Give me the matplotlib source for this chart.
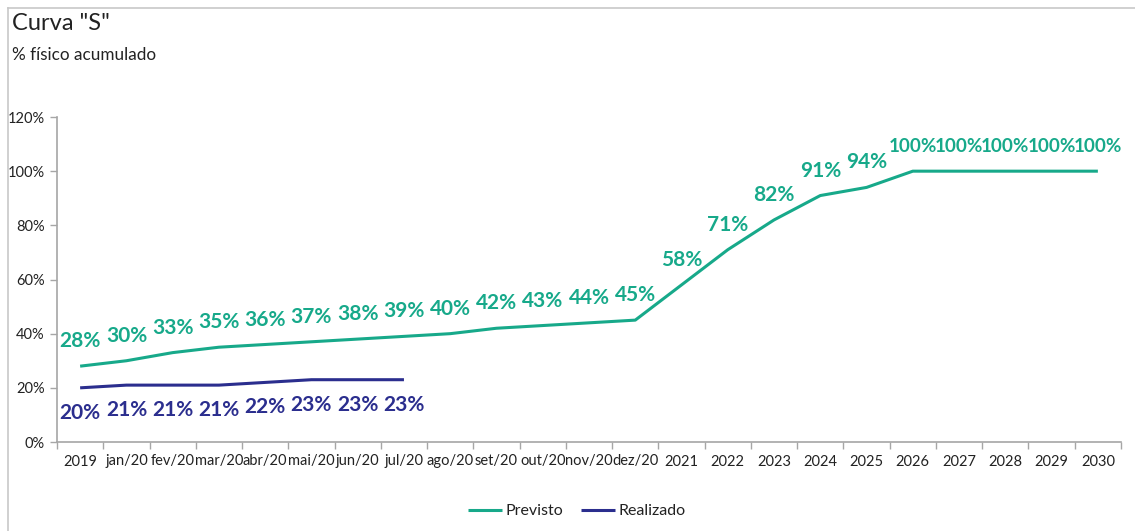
import matplotlib
matplotlib.use("Agg")
import matplotlib.pyplot as plt
from matplotlib.lines import Line2D
from matplotlib.ticker import FuncFormatter, FixedLocator

categories = ["2019", "jan/20", "fev/20", "mar/20", "abr/20", "mai/20", "jun/20", "jul/20",
              "ago/20", "set/20", "out/20", "nov/20", "dez/20", "2021", "2022", "2023",
              "2024", "2025", "2026", "2027", "2028", "2029", "2030"]
previsto = [28, 30, 33, 35, 36, 37, 38, 39, 40, 42, 43, 44, 45, 58, 71, 82, 91, 94,
            100, 100, 100, 100, 100]
realizado = [20, 21, 21, 21, 22, 23, 23, 23]

C_PREV = "#17A98A"
C_REAL = "#2B2E8E"
AXIS_C = "#A6A6A6"
TXT_C = "#222222"
FONT = ["Lato", "DejaVu Sans"]

plt.rcParams["font.family"] = FONT

fig = plt.figure(figsize=(11.35, 5.31), dpi=100)
ax = fig.add_axes([57/1135, 1-442/531, (1121-57)/1135, (442-117)/531])

x = list(range(len(categories)))
ax.plot(x, previsto, color=C_PREV, lw=2.2, label="Previsto", solid_capstyle="butt")
ax.plot(x[:len(realizado)], realizado, color=C_REAL, lw=2.2, label="Realizado",
        solid_capstyle="butt")

for xi, v in zip(x, previsto):
    fs = 13.6 if v >= 100 else 15
    ax.annotate(f"{v}%", (xi, v), xytext=(0, 25), textcoords="offset pixels",
                ha="center", va="center", color=C_PREV, fontsize=fs, fontweight="bold")
for xi, v in zip(x, realizado):
    ax.annotate(f"{v}%", (xi, v), xytext=(0, -25), textcoords="offset pixels",
                ha="center", va="center", color=C_REAL, fontsize=15, fontweight="bold")

ax.set_xlim(-0.5, len(categories) - 0.5)
ax.set_ylim(0, 120)
ax.set_yticks(range(0, 121, 20))
ax.yaxis.set_major_formatter(FuncFormatter(lambda v, p: f"{int(v)}%"))
ax.set_xticks(x)
ax.set_xticklabels(categories)
ax.xaxis.set_minor_locator(FixedLocator([i - 0.5 for i in range(len(categories) + 1)]))
ax.tick_params(axis="x", which="major", length=0, pad=9, labelsize=10.5, labelcolor=TXT_C)
ax.tick_params(axis="x", which="minor", length=5, color=AXIS_C, width=1)
ax.tick_params(axis="y", which="major", length=5, color=AXIS_C, width=1, labelsize=10.5,
               labelcolor=TXT_C, pad=4)
for s in ["top", "right"]:
    ax.spines[s].set_visible(False)
for s in ["left", "bottom"]:
    ax.spines[s].set_color(AXIS_C)
    ax.spines[s].set_linewidth(1.2)

fig.text(12/1135, 1-23/531, 'Curva "S"', fontsize=17, color=TXT_C, va="center", ha="left")
fig.text(12/1135, 1-55/531, "% físico acumulado", fontsize=12.3, color=TXT_C, va="center", ha="left")

leg = fig.legend(loc="center", bbox_to_anchor=(577/1135, 1-511/531), ncol=2, frameon=False,
                 fontsize=11.5, handlelength=2.1, handletextpad=0.25, columnspacing=1.1)
for t in leg.get_texts():
    t.set_color(TXT_C)

fig.add_artist(Line2D([8/1135, 8/1135], [0, 1-8/531], color="#C8C8C8", lw=1.2,
                      transform=fig.transFigure))
fig.add_artist(Line2D([8/1135, 1], [1-8/531, 1-8/531], color="#C8C8C8", lw=1.2,
                      transform=fig.transFigure))

fig.savefig("out.png", dpi=100)
